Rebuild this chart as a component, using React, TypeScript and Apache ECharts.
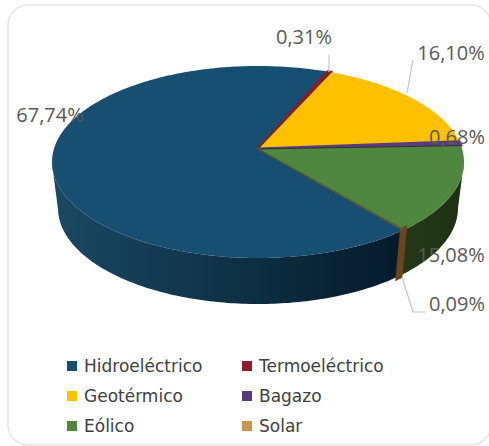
import React, { useEffect, useRef } from "react";
import * as echarts from "echarts";

const categories = ["Hidroeléctrico", "Termoeléctrico", "Geotérmico", "Bagazo", "Eólico", "Solar"];
const shares = [67.74, 0.31, 16.1, 0.68, 15.08, 0.09];
const topColors = ["#174f72", "#8e1b2c", "#ffc000", "#5a3b80", "#4f8740", "#c9964e"];
const sideStart = ["#1a4863", "#5c1220", "#8a6a00", "#33204a", "#22391a", "#6b431c"];
const sideEnd = ["#041a2a", "#5c1220", "#8a6a00", "#33204a", "#1e3213", "#6b431c"];
const legendLeft = ["Hidroeléctrico", "Geotérmico", "Eólico"];
const legendRight = ["Termoeléctrico", "Bagazo", "Solar"];

const fmt = (v: number) => v.toFixed(2).replace(".", ",") + "%";

const START = 46.5;
const TILT = 0.015;
const TOP = { cx: 258, cy: 162, rx: 206, ry: 96 };
const BOTTOM = { cx: 258, cy: 208, rx: 200, ry: 96 };
const APEX = [258, 149];

// maps a true pie angle (deg, clockwise from 3 o'clock) to the angle on the tilted ellipse
function warp(deg: number) {
  const t = (deg * Math.PI) / 180;
  const c = Math.cos(t), s = Math.sin(t);
  const nr = c, ni = s - TILT;
  const dr = 1 - TILT * s, di = TILT * c;
  return Math.atan2(ni * dr - nr * di, nr * dr + ni * di);
}
const at = (e: typeof TOP, p: number) => [e.cx + e.rx * Math.cos(p), e.cy + e.ry * Math.sin(p)];

function sliceRange(index: number) {
  let from = START;
  for (let i = 0; i < index; i++) from += (shares[i] / 100) * 360;
  return [from, from + (shares[index] / 100) * 360];
}

function renderSlice(index: number) {
  return (_params: any, api: any) => {
    const [from, to] = sliceRange(index);
    const value = api.value(0);
    const thin = value < 1;
    const tiny = value < 0.2;
    const children: any[] = [];
    const rim: number[][] = [];
    const wallA: number[][] = [];
    const wallB: number[][] = [];
    const steps = Math.max(4, Math.ceil(to - from));
    for (let k = 0; k <= steps; k++) {
      const deg = from + ((to - from) * k) / steps;
      let p = warp(deg);
      rim.push(at(TOP, p));
      if (p < 0) p += Math.PI * 2;
      if (p >= 0 && p <= Math.PI) {
        wallA.push(at(TOP, p));
        wallB.push(at(BOTTOM, p));
      }
    }
    if (wallA.length > 1) {
      const xs = wallA.map((q) => q[0]);
      const goingLeft = xs[0] > xs[xs.length - 1];
      children.push({
        type: "polygon",
        shape: { points: wallA.concat(wallB.slice().reverse()) },
        style: {
          fill: new echarts.graphic.LinearGradient(goingLeft ? 1 : 0, 0, goingLeft ? 0 : 1, 0, [
            { offset: 0, color: sideEnd[index] },
            { offset: 1, color: sideStart[index] },
          ]),
          stroke: thin ? sideStart[index] : undefined,
          lineWidth: thin ? 6 : 0,
        },
      });
    }
    children.push({
      type: "polygon",
      shape: { points: [APEX, ...rim] },
      style: {
        fill: topColors[index],
        stroke: tiny ? "#5d5a30" : thin ? topColors[index] : undefined,
        lineWidth: tiny ? 1.2 : thin ? 3 : 0,
        lineJoin: "round",
      },
    });
    if (!thin) {
      children.push({
        type: "polyline",
        shape: { points: [rim[0], APEX, rim[rim.length - 1]] },
        style: { stroke: "rgba(30,40,20,0.7)", lineWidth: 1, fill: "none" },
      });
    }
    return { type: "group", children };
  };
}

const labelText = (i: number, x: number, y: number) => ({
  type: "text",
  z: 100,
  x,
  y,
  style: {
    text: fmt(shares[i]),
    fill: "#595959",
    font: '20px "Open Sans"',
    textAlign: "center",
    textVerticalAlign: "middle",
  },
});
const leader = (points: number[][]) => ({
  type: "polyline",
  z: 90,
  shape: { points },
  style: { stroke: "#c4c4c4", lineWidth: 1.2, fill: "none" },
});

const legendBase = {
  orient: "vertical" as const,
  top: 357,
  icon: "rect",
  itemWidth: 10,
  itemHeight: 10,
  itemGap: 12,
  padding: 0,
  selectedMode: false,
  textStyle: { fontFamily: "DejaVu Sans", fontSize: 17, color: "#404040", lineHeight: 18, padding: [0, 0, 0, 2] },
};

export default function App() {
  const ref = useRef<HTMLDivElement>(null);
  useEffect(() => {
    const chart = echarts.init(ref.current!, undefined, { renderer: "svg" });
    chart.setOption({
      animation: false,
      backgroundColor: "#ffffff",
      legend: [
        { ...legendBase, left: 67, data: legendLeft },
        { ...legendBase, left: 242, data: legendRight },
      ],
      graphic: [
        {
          type: "rect",
          z: -1,
          shape: { x: 8, y: 5, width: 483, height: 440, r: 20 },
          style: { fill: "#ffffff", stroke: "#e6e6e6", lineWidth: 1.5 },
        },
        leader([[329, 55], [329, 72]]),
        leader([[413, 60], [407, 93]]),
        leader([[402, 277], [413, 312], [425, 312]]),
        labelText(0, 50, 114),
        labelText(1, 304, 36),
        labelText(2, 451, 52),
        labelText(3, 457, 136),
        labelText(4, 451, 254),
        labelText(5, 457, 303),
      ],
      series: categories.map((name, i) => ({
        type: "custom",
        name,
        coordinateSystem: "none",
        silent: true,
        itemStyle: { color: topColors[i] },
        data: [[shares[i]]],
        renderItem: renderSlice(i),
      })),
    });
    return () => chart.dispose();
  }, []);
  return <div ref={ref} style={{ position: "fixed", left: 0, top: 0, width: 489, height: 446 }} />;
}
